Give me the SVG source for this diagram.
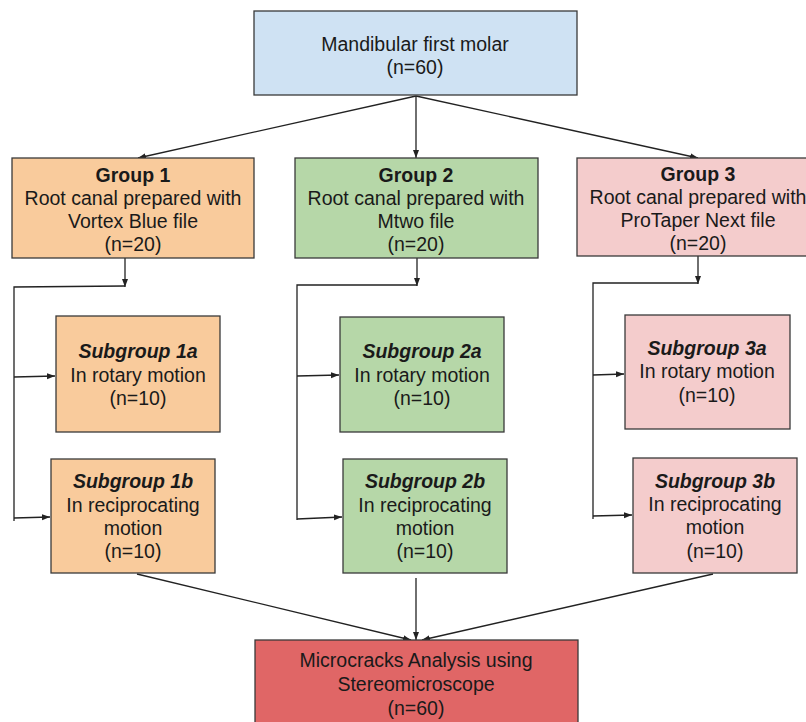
<svg xmlns="http://www.w3.org/2000/svg" width="806" height="722" viewBox="0 0 806 722">
<style>
  .box { stroke: #3a3a3a; stroke-width: 1.3; }
  .blue { fill: #cfe2f3; }
  .orange { fill: #f9cb9c; }
  .green { fill: #b6d7a8; }
  .pink { fill: #f4cccc; }
  .red { fill: #e06666; }
  text { font-family: "Liberation Sans", Arial, sans-serif; font-size: 19.5px; fill: #1a1a1a; text-anchor: middle; }
  .b { font-weight: bold; }
  .bi { font-weight: bold; font-style: italic; }
  .ln { fill: none; stroke: #222; stroke-width: 1.3; }
</style>
<defs>
  <marker id="ah" markerUnits="userSpaceOnUse" markerWidth="8" markerHeight="8" viewBox="0 0 8 8" refX="8" refY="4" orient="auto">
    <path d="M0,1 L8,4 L0,7 Z" fill="#222"/>
  </marker>
</defs>
<rect width="806" height="722" fill="#ffffff"/>

<g id="connectors">
  <line class="ln" x1="416" y1="96" x2="138" y2="158" marker-end="url(#ah)"/>
  <line class="ln" x1="416" y1="96" x2="416" y2="158" marker-end="url(#ah)"/>
  <line class="ln" x1="416" y1="96" x2="698" y2="158" marker-end="url(#ah)"/>

  <line class="ln" x1="125" y1="258" x2="125" y2="287" marker-end="url(#ah)"/>
  <polyline class="ln" points="125,286 14,287 14,521"/>
  <line class="ln" x1="14" y1="377" x2="55" y2="376" marker-end="url(#ah)"/>
  <line class="ln" x1="14" y1="518" x2="50" y2="517" marker-end="url(#ah)"/>

  <line class="ln" x1="417" y1="258" x2="417" y2="286" marker-end="url(#ah)"/>
  <polyline class="ln" points="417,285 297,285 297,520"/>
  <line class="ln" x1="297" y1="376" x2="339" y2="375" marker-end="url(#ah)"/>
  <line class="ln" x1="297" y1="519" x2="342" y2="517" marker-end="url(#ah)"/>

  <line class="ln" x1="698" y1="256" x2="698" y2="284" marker-end="url(#ah)"/>
  <polyline class="ln" points="698,283 593,283 593,519"/>
  <line class="ln" x1="593" y1="375" x2="624" y2="374" marker-end="url(#ah)"/>
  <line class="ln" x1="593" y1="516" x2="632" y2="515" marker-end="url(#ah)"/>

  <line class="ln" x1="137" y1="574" x2="411" y2="640" marker-end="url(#ah)"/>
  <line class="ln" x1="416" y1="578" x2="416" y2="640" marker-end="url(#ah)"/>
  <line class="ln" x1="713" y1="574" x2="422" y2="640" marker-end="url(#ah)"/>
</g>

<g id="top">
  <rect class="box blue" x="254" y="11" width="323" height="84"/>
  <text x="415" y="51">Mandibular first molar</text>
  <text x="415" y="74">(n=60)</text>
</g>

<g id="group1">
  <rect class="box orange" x="12" y="158" width="242" height="100"/>
  <text class="b" x="133" y="182">Group 1</text>
  <text x="133" y="205">Root canal prepared with</text>
  <text x="133" y="228">Vortex Blue file</text>
  <text x="133" y="251">(n=20)</text>
</g>

<g id="group2">
  <rect class="box green" x="295" y="158" width="243" height="100"/>
  <text class="b" x="416" y="182">Group 2</text>
  <text x="416" y="205">Root canal prepared with</text>
  <text x="416" y="228">Mtwo file</text>
  <text x="416" y="251">(n=20)</text>
</g>

<g id="group3">
  <rect class="box pink" x="577" y="158" width="244" height="98"/>
  <text class="b" x="698" y="181">Group 3</text>
  <text x="698" y="204">Root canal prepared with</text>
  <text x="698" y="227">ProTaper Next file</text>
  <text x="698" y="250">(n=20)</text>
</g>

<g id="sub1a">
  <rect class="box orange" x="56" y="316" width="164" height="116"/>
  <text class="bi" x="138" y="358">Subgroup 1a</text>
  <text x="138" y="382">In rotary motion</text>
  <text x="138" y="405">(n=10)</text>
</g>

<g id="sub1b">
  <rect class="box orange" x="51" y="459" width="164" height="114"/>
  <text class="bi" x="133" y="488">Subgroup 1b</text>
  <text x="133" y="512">In reciprocating</text>
  <text x="133" y="535">motion</text>
  <text x="133" y="558">(n=10)</text>
</g>

<g id="sub2a">
  <rect class="box green" x="340" y="317" width="164" height="115"/>
  <text class="bi" x="422" y="358">Subgroup 2a</text>
  <text x="422" y="382">In rotary motion</text>
  <text x="422" y="405">(n=10)</text>
</g>

<g id="sub2b">
  <rect class="box green" x="343" y="459" width="164" height="114"/>
  <text class="bi" x="425" y="488">Subgroup 2b</text>
  <text x="425" y="512">In reciprocating</text>
  <text x="425" y="535">motion</text>
  <text x="425" y="558">(n=10)</text>
</g>

<g id="sub3a">
  <rect class="box pink" x="625" y="315" width="165" height="114"/>
  <text class="bi" x="707" y="355">Subgroup 3a</text>
  <text x="707" y="378">In rotary motion</text>
  <text x="707" y="402">(n=10)</text>
</g>

<g id="sub3b">
  <rect class="box pink" x="633" y="458" width="164" height="115"/>
  <text class="bi" x="715" y="488">Subgroup 3b</text>
  <text x="715" y="511">In reciprocating</text>
  <text x="715" y="534">motion</text>
  <text x="715" y="558">(n=10)</text>
</g>

<g id="analysis">
  <rect class="box red" x="255" y="640" width="323" height="90"/>
  <text x="416" y="667">Microcracks Analysis using</text>
  <text x="416" y="691">Stereomicroscope</text>
  <text x="416" y="715">(n=60)</text>
</g>
</svg>
